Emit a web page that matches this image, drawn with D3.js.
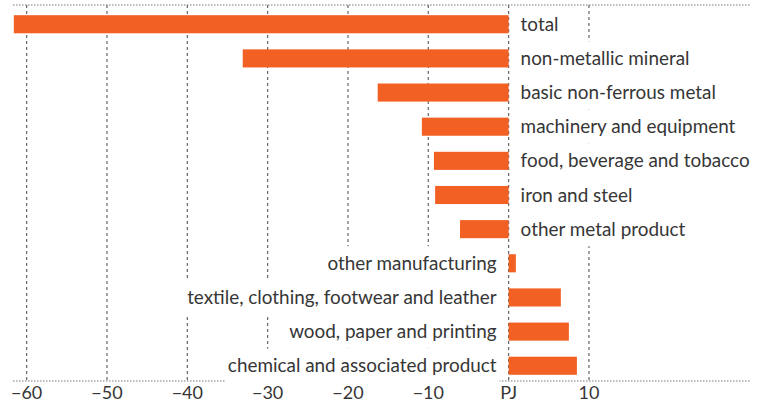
<!DOCTYPE html>
<html>
<head>
<meta charset="utf-8">
<script src="https://cdn.jsdelivr.net/npm/d3@7"></script>
<style>
  body { margin: 0; background: #fff; }
  text { font-family: Lato, "Open Sans", sans-serif; fill: #363636; }
</style>
</head>
<body>
<svg id="chart" width="763" height="405"></svg>
<script>
const categories = [
  'total',
  'non-metallic mineral',
  'basic non-ferrous metal',
  'machinery and equipment',
  'food, beverage and tobacco',
  'iron and steel',
  'other metal product',
  'other manufacturing',
  'textile, clothing, footwear and leather',
  'wood, paper and printing',
  'chemical and associated product'
];
const values = [-61.6, -33.1, -16.3, -10.8, -9.3, -9.15, -6.05, 0.9, 6.5, 7.5, 8.5];
const tickValues = [-60, -50, -40, -30, -20, -10, 0, 10];
const tickLabels = ['−60', '−50', '−40', '−30', '−20', '−10', 'PJ', '10'];

const svg = d3.select('#chart');
const topY = 5, axisY = 381;

const x = d3.scaleLinear().domain([-61.7, 29.8]).range([13, 748]);
const y = d3.scaleBand().domain(categories).range([7, 383]).paddingInner(0.47).paddingOuter(0.24);

// gridlines
svg.append('g')
  .selectAll('line')
  .data(tickValues)
  .join('line')
  .attr('x1', d => x(d)).attr('x2', d => x(d))
  .attr('y1', topY).attr('y2', axisY)
  .attr('stroke', '#666')
  .attr('stroke-width', 1.2)
  .attr('stroke-dasharray', '3,3');

// top and bottom dotted rules
[topY, axisY].forEach(yy => {
  svg.append('line')
    .attr('x1', 13).attr('x2', 750)
    .attr('y1', yy).attr('y2', yy)
    .attr('stroke', '#777')
    .attr('stroke-width', 1.2)
    .attr('stroke-dasharray', '1.5,1.5');
});

// bars
svg.append('g')
  .selectAll('rect')
  .data(categories)
  .join('rect')
  .attr('x', (d, i) => x(Math.min(0, values[i])))
  .attr('width', (d, i) => Math.abs(x(values[i]) - x(0)))
  .attr('y', d => y(d))
  .attr('height', y.bandwidth())
  .attr('fill', '#f26024');

// labels with white backing so gridlines break behind them
const step = y.step();
const labels = svg.append('g');
categories.forEach((c, i) => {
  const neg = values[i] < 0;
  const cy = y(c) + y.bandwidth() / 2;
  const t = labels.append('text')
    .attr('x', neg ? x(0) + 12 : x(0) - 12)
    .attr('y', cy)
    .attr('dy', '0.35em')
    .attr('text-anchor', neg ? 'start' : 'end')
    .style('font-size', '18.9px')
    .text(c);
  const w = t.node().getComputedTextLength();
  const bx = neg ? x(0) + 9 : x(0) - 12 - w - 2;
  labels.insert('rect', 'text')
    .attr('x', bx).attr('y', cy - step / 2)
    .attr('width', w + 5).attr('height', step)
    .attr('fill', '#fff');
});

// axis tick labels
svg.append('g')
  .selectAll('text')
  .data(tickValues)
  .join('text')
  .attr('x', d => x(d))
  .attr('y', 399)
  .attr('text-anchor', 'middle')
  .style('font-size', '18px')
  .text((d, i) => tickLabels[i]);
</script>
</body>
</html>
